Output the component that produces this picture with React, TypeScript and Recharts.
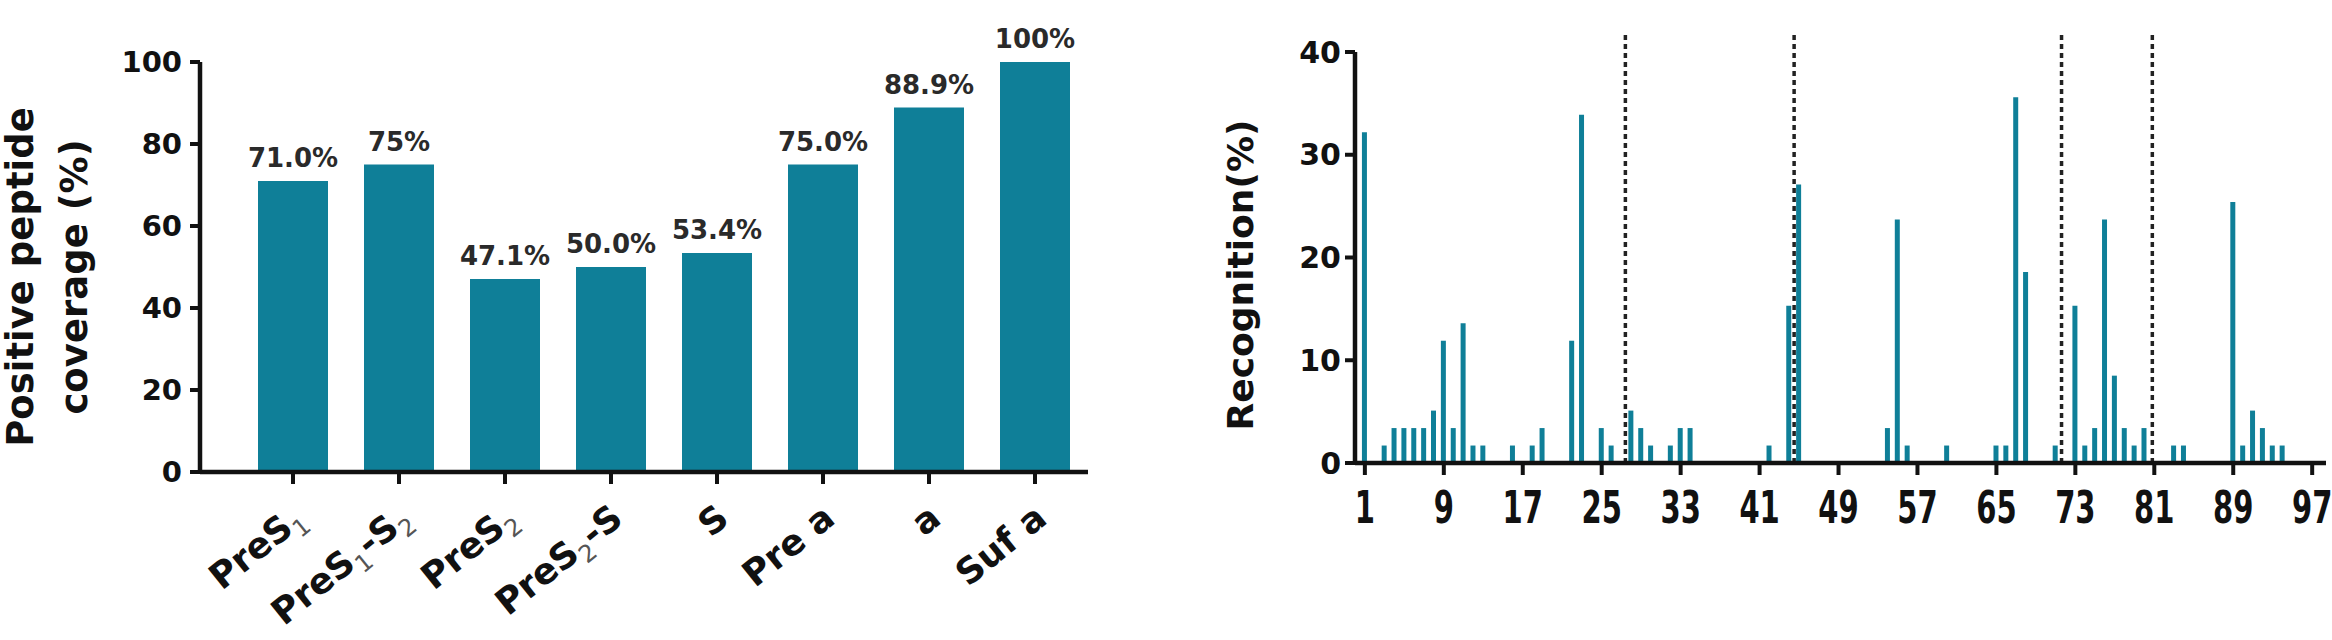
import { BarChart, Bar, XAxis, YAxis, LabelList, Label, ReferenceLine } from 'recharts'

// left panel: coverage per region
const regions = ['PreS1', 'PreS1-S2', 'PreS2', 'PreS2-S', 'S', 'Pre a', 'a', 'Suf a']
const coverage = [71.0, 75, 47.1, 50.0, 53.4, 75.0, 88.9, 100]
const coverageLabels = ['71.0%', '75%', '47.1%', '50.0%', '53.4%', '75.0%', '88.9%', '100%']
const coverageTicks = [0, 20, 40, 60, 80, 100]

// right panel: recognition per peptide (peptides 1..97)
const recognition = [
  32.2, 0, 1.7, 3.4, 3.4, 3.4, 3.4, 5.1, 11.9, 3.4,
  13.6, 1.7, 1.7, 0, 0, 1.7, 0, 1.7, 3.4, 0,
  0, 11.9, 33.9, 0, 3.4, 1.7, 0, 5.1, 3.4, 1.7,
  0, 1.7, 3.4, 3.4, 0, 0, 0, 0, 0, 0,
  0, 1.7, 0, 15.3, 27.1, 0, 0, 0, 0, 0,
  0, 0, 0, 3.4, 23.7, 1.7, 0, 0, 0, 1.7,
  0, 0, 0, 0, 1.7, 1.7, 35.6, 18.6, 0, 0,
  1.7, 0, 15.3, 1.7, 3.4, 23.7, 8.5, 3.4, 1.7, 3.4,
  0, 0, 1.7, 1.7, 0, 0, 0, 0, 25.4, 1.7,
  5.1, 3.4, 1.7, 1.7, 0, 0, 0,
]
const peptideTicks = [1, 9, 17, 25, 33, 41, 49, 57, 65, 73, 81, 89, 97]
const recognitionTicks = [0, 10, 20, 30, 40]
const regionBoundaries = [27.4, 44.5, 71.6, 80.8]

const TEAL = '#0f7f98'
const FONT = 'DejaVu Sans'

const coverageData = regions.map((region, i) => ({ region, value: coverage[i], label: coverageLabels[i] }))
const recognitionData = recognition.map((value, i) => ({ peptide: i + 1, value }))

function RegionTick({ x, y, payload }: any) {
  const parts = String(payload.value).split(/(\d)/).filter(Boolean)
  let shifted = false
  return (
    <g transform={`translate(${x + 14},${y + 36}) rotate(-39)`}>
      <text textAnchor="end" fontFamily={FONT} fontWeight="bold" fontSize={36} fill="#111">
        {parts.map((p, i) => {
          const sub = /^\d$/.test(p)
          const dy = sub ? (shifted ? 0 : 9) : shifted ? -9 : 0
          shifted = sub
          return (
            <tspan key={i} dy={dy} fontSize={sub ? 24 : 36} fontWeight={sub ? 'normal' : 'bold'} fill={sub ? '#555' : '#111'}>
              {p}
            </tspan>
          )
        })}
      </text>
    </g>
  )
}

// narrow, tall digits under the peptide axis
function PeptideTick({ x, y, payload }: any) {
  return (
    <text
      transform={`translate(${x},${y}) scale(0.66,1)`}
      textAnchor="middle"
      dy="0.73em"
      fontFamily={FONT}
      fontWeight="bold"
      fontSize={44}
      fill="#111"
    >
      {payload.value}
    </text>
  )
}

function rotatedLines(lines: string[], xs: number[], cy: number, size: number) {
  return (
    <g>
      {lines.map((line, i) => (
        <text
          key={i}
          transform={`translate(${xs[i]},${cy}) rotate(-90)`}
          textAnchor="middle"
          dominantBaseline="central"
          fontFamily={FONT}
          fontWeight="bold"
          fontSize={size}
          fill="#111"
        >
          {line}
        </text>
      ))}
    </g>
  )
}

export default function App() {
  return (
    <div style={{ position: 'absolute', left: 0, top: 0, width: 2332, height: 640, background: '#fff' }}>
      <div style={{ position: 'absolute', left: 0, top: 0 }}>
        <BarChart width={1100} height={640} data={coverageData} margin={{ top: 62, right: 12, bottom: 0, left: 0 }}>
          <XAxis
            dataKey="region"
            height={168}
            padding={{ left: 40, right: 0 }}
            axisLine={{ stroke: '#111', strokeWidth: 4.5 }}
            tickLine={{ stroke: '#111', strokeWidth: 4 }}
            tickSize={12}
            tick={<RegionTick />}
            interval={0}
          />
          <YAxis
            width={200}
            domain={[0, 100]}
            ticks={coverageTicks}
            axisLine={{ stroke: '#111', strokeWidth: 4.5 }}
            tickLine={{ stroke: '#111', strokeWidth: 4 }}
            tickSize={10}
            tickMargin={8}
            tick={{ fontFamily: FONT, fontWeight: 'bold', fontSize: 29, fill: '#111' }}
          >
            <Label content={() => rotatedLines(['Positive peptide', 'coverage (%)'], [20, 74], 277, 37)} />
          </YAxis>
          <Bar dataKey="value" fill={TEAL} barSize={70} isAnimationActive={false}>
            <LabelList
              dataKey="label"
              content={(p: any) => (
                <text
                  x={p.x + p.width / 2}
                  y={p.y - 14}
                  textAnchor="middle"
                  fontFamily={FONT}
                  fontWeight="bold"
                  fontSize={26}
                  fill="#2a2a2a"
                >
                  {p.value}
                </text>
              )}
            />
          </Bar>
        </BarChart>
      </div>
      <div style={{ position: 'absolute', left: 1200, top: 0 }}>
        <BarChart width={1132} height={640} data={recognitionData} margin={{ top: 52, right: 6, bottom: 0, left: 0 }}>
          <XAxis
            dataKey="peptide"
            type="number"
            domain={[0, 98.4]}
            ticks={peptideTicks}
            height={177}
            axisLine={{ stroke: '#111', strokeWidth: 4.5 }}
            tickLine={{ stroke: '#111', strokeWidth: 4 }}
            tickSize={12}
            tickMargin={16}
            tick={<PeptideTick />}
          />
          <YAxis
            width={155}
            domain={[0, 40]}
            ticks={recognitionTicks}
            axisLine={{ stroke: '#111', strokeWidth: 4.5 }}
            tickLine={{ stroke: '#111', strokeWidth: 4 }}
            tickSize={10}
            tickMargin={4}
            tick={{ fontFamily: FONT, fontWeight: 'bold', fontSize: 30, fill: '#111' }}
          >
            <Label content={() => rotatedLines(['Recognition(%)'], [40], 275, 36)} />
          </YAxis>
          {regionBoundaries.map((b) => (
            <ReferenceLine
              key={b}
              segment={[{ x: b, y: 0 }, { x: b, y: 42 }]}
              ifOverflow="visible"
              stroke="#222"
              strokeWidth={3.5}
              strokeDasharray="5 4"
            />
          ))}
          <Bar dataKey="value" fill={TEAL} barSize={5} isAnimationActive={false} />
        </BarChart>
      </div>
    </div>
  )
}
